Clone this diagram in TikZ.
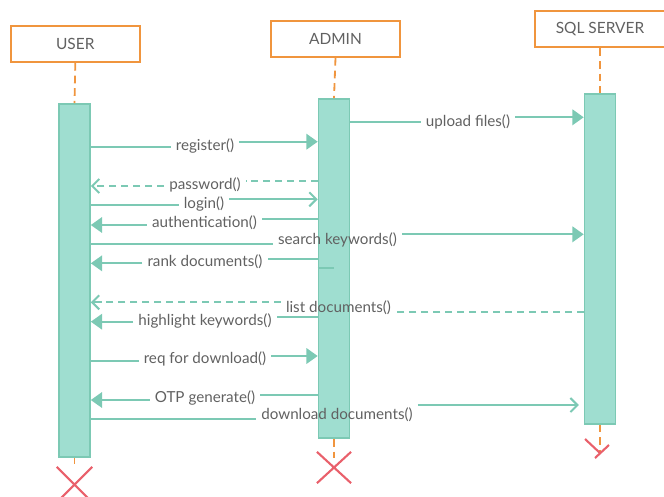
\documentclass[tikz,border=0pt]{standalone}
\usepackage{fontspec}
\setmainfont{Lato}
\usepackage{xcolor}
\usepackage{tikz}
\usetikzlibrary{arrows.meta,shapes.misc}

\definecolor{mint}{HTML}{9FDED0}
\definecolor{mintline}{HTML}{7CC9B4}
\definecolor{boxorange}{HTML}{F0953E}
\definecolor{crossred}{HTML}{E9606B}
\definecolor{txtgray}{HTML}{616161}

\begin{document}
\begin{tikzpicture}[x=0.025cm, y=-0.025cm,
    actor/.style={draw=boxorange, line width=1.3pt, fill=white, minimum width=3.23cm,
        minimum height=0.9cm, text=txtgray, font=\fontsize{11}{13}\selectfont},
    life/.style={boxorange, line width=1.3pt, dash pattern=on 5.5pt off 3.5pt},
    bar/.style={draw=mintline, fill=mint, line width=1pt, minimum width=0.78cm, inner sep=0pt},
    lbl/.style={text=txtgray, inner xsep=3.5pt, inner ysep=0pt, font=\fontsize{10.8}{12}\selectfont},
    msg/.style={mintline, line width=1.4pt},
    reply/.style={msg, dash pattern=on 5pt off 3.5pt},
    fullhead/.style={-{Triangle[length=8pt,width=11pt]}},
    openhead/.style={-{Straight Barb[length=5pt,width=10pt]}},
    kill/.style={draw=crossred, line width=1.5pt, cross out, inner sep=0pt}]

    \useasboundingbox (0,0) rectangle (664,496);

    % Cabeceras
    \node[actor] (user) at (75.3,44) {USER};
    \node[actor] (admin) at (335.5,39) {ADMIN};
    \node[actor] (sql) at (600,29.3) {SQL SERVER};

    % Barras de activacion
    \node[bar, minimum height=8.83cm] (ubar) at (74.5,280.5) {};
    \node[bar, minimum height=8.48cm] (abar) at (334,268.5) {};
    \node[bar, minimum height=8.25cm] (sbar) at (600,259) {};

    % Fin de cada linea de vida
    \node[kill, minimum width=0.83cm, minimum height=0.83cm] (ux) at (74.5,484.5) {};
    \node[kill, minimum width=0.8cm, minimum height=0.73cm] (ax) at (334,467.5) {};

    % Lineas de vida (naranja, discontinuas)
    \draw[life] (user.south) -- (ubar.north);
    \draw[life] (admin.south) -- (abar.north);
    \draw[life] (sql.south) -- (sbar.north);
    \draw[life] (ubar.south) -- (ux.north |- 0,464);
    \draw[life] (abar.south) -- (ax.center |- 0,458);
    \draw[life] (sbar.south) -- (sbar.south |- 0,452);
    \draw[crossred, line width=1.5pt] (585,439) -- (600,453);
    \draw[crossred, line width=1.5pt] (595,458) -- (609,445);

    % Etiquetas de los mensajes
    \node[lbl] (up) at (468,121.7) {upload files()};
    \node[lbl] (reg) at (205,145.7) {register()};
    \node[lbl] (pwd) at (205,184.7) {password()};
    \node[lbl] (login) at (204,203.7) {login()};
    \node[lbl] (auth) at (204.5,223) {authentication()};
    \node[lbl] (search) at (337.5,240) {search keywords()};
    \node[lbl] (rank) at (205,262) {rank documents()};
    \node[lbl] (list) at (338.5,307.5) {list documents()};
    \node[lbl] (high) at (205,320.7) {highlight keywords()};
    \node[lbl] (req) at (205,359.3) {req for download()};
    \node[lbl] (otp) at (205,398.3) {OTP generate()};
    \node[lbl] (dl) at (337,414.5) {download documents()};

    % Mensajes
    \draw[msg] (abar.east |- 0,122.3) -- (up.west |- 0,122.3);
    \draw[msg, fullhead] (up.east |- 0,117.3) -- (sbar.west |- 0,117.3);

    \draw[msg] (ubar.east |- 0,146.7) -- (reg.west |- 0,146.7);
    \draw[msg, fullhead] (reg.east |- 0,141.7) -- (abar.west |- 0,141.7);

    \draw[reply] (abar.west |- 0,180.7) -- (pwd.east |- 0,180.7);
    \draw[reply, openhead] (pwd.west |- 0,186) -- (ubar.east |- 0,186);

    \draw[msg] (ubar.east |- 0,205.3) -- (login.west |- 0,205.3);
    \draw[msg, openhead] (login.east |- 0,199.3) -- (abar.west |- 0,199.3);

    \draw[msg] (abar.west |- 0,219.3) -- (auth.east |- 0,219.3);
    \draw[msg, fullhead] (auth.west |- 0,225) -- (ubar.east |- 0,225);

    \draw[msg] (ubar.east |- 0,244) -- (search.west |- 0,244);
    \draw[msg, fullhead] (search.east |- 0,234.3) -- (sbar.west |- 0,234.3);

    \draw[msg] (abar.west |- 0,259.3) -- (rank.east |- 0,259.3);
    \draw[msg, fullhead] (rank.west |- 0,263.3) -- (ubar.east |- 0,263.3);
    \draw[msg] (abar.west |- 0,268) -- (abar.center |- 0,268);

    \draw[reply] (sbar.west |- 0,312.3) -- (list.east |- 0,312.3);
    \draw[reply, openhead] (list.west |- 0,302.3) -- (ubar.east |- 0,302.3);

    \draw[msg] (abar.west |- 0,316.7) -- (high.east |- 0,316.7);
    \draw[msg, fullhead] (high.west |- 0,321.7) -- (ubar.east |- 0,321.7);

    \draw[msg] (ubar.east |- 0,360.7) -- (req.west |- 0,360.7);
    \draw[msg, fullhead] (req.east |- 0,356) -- (abar.west |- 0,356);

    \draw[msg] (abar.west |- 0,395) -- (otp.east |- 0,395);
    \draw[msg, fullhead] (otp.west |- 0,400) -- (ubar.east |- 0,400);

    \draw[msg] (ubar.east |- 0,419) -- (dl.west |- 0,419);
    \draw[msg, openhead, shorten >=3.5pt] (dl.east |- 0,405) -- (sbar.west |- 0,405);

\end{tikzpicture}
\end{document}
